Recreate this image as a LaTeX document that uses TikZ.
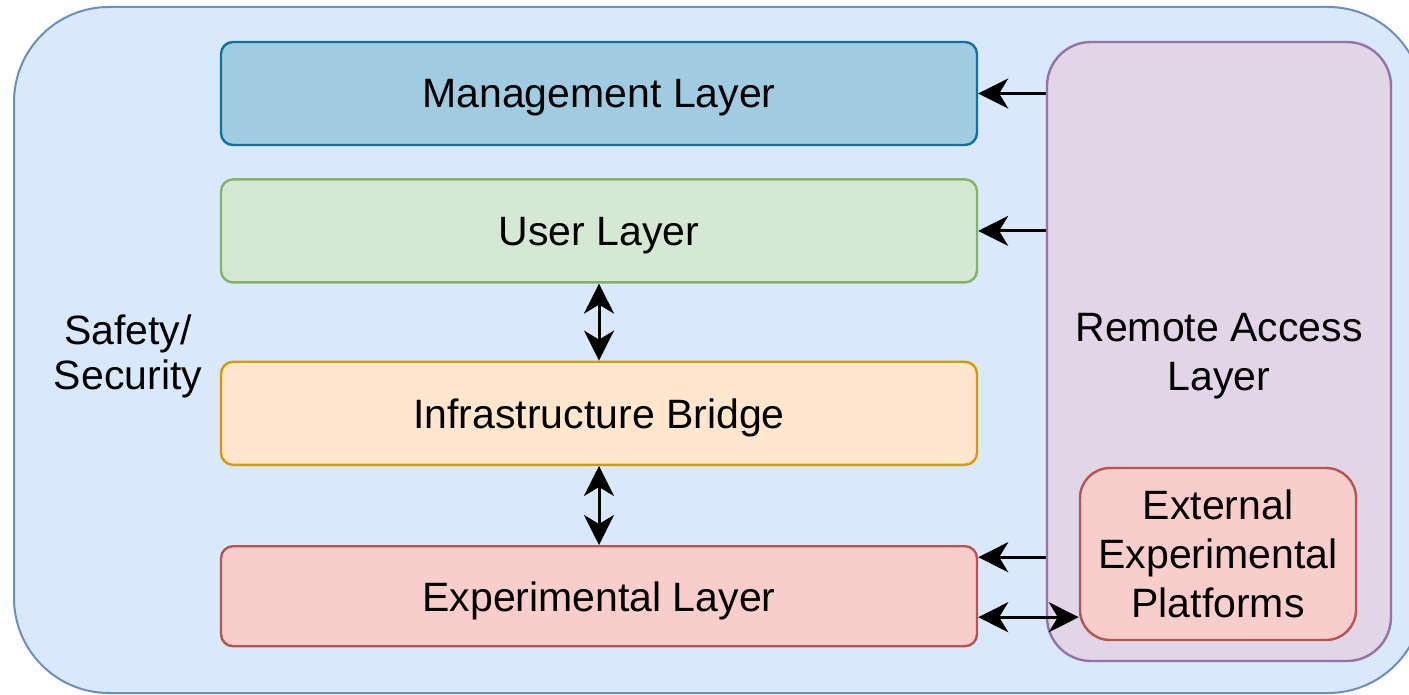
\documentclass[tikz,border=0pt]{standalone}
\usepackage{fontspec}
\setmainfont{Liberation Sans}
\usetikzlibrary{positioning, arrows.meta}

\definecolor{outerfill}{HTML}{DAE8FC}
\definecolor{outerline}{HTML}{6C8EBF}
\definecolor{mgmtfill}{HTML}{A0CBE1}
\definecolor{mgmtline}{HTML}{10739E}
\definecolor{userfill}{HTML}{D5E8D4}
\definecolor{userline}{HTML}{82B366}
\definecolor{bridgefill}{HTML}{FFE6CC}
\definecolor{bridgeline}{HTML}{D79B00}
\definecolor{expfill}{HTML}{F8CECC}
\definecolor{expline}{HTML}{B85450}
\definecolor{remotefill}{HTML}{E1D5E7}
\definecolor{remoteline}{HTML}{9673A6}

\tikzset{
  layer/.style={rectangle, draw, line width=1.2pt, rounded corners=6pt,
    minimum width=378pt, minimum height=51.5pt, text depth=0pt,
    font=\fontsize{20.5}{24}\selectfont},
  sidebox/.style={rectangle, draw, line width=1.2pt, align=center, text depth=0pt,
    font=\fontsize{20.5}{24.5}\selectfont},
  link/.style={-{Stealth[length=15pt, width=15pt, inset=4.5pt]}, line width=1.5pt},
  dlink/.style={{Stealth[length=15pt, width=15pt, inset=4.5pt]}-{Stealth[length=15pt, width=15pt, inset=4.5pt]}, line width=1.5pt}
}

\begin{document}
\begin{tikzpicture}[x=0.5pt, y=-0.5pt]

  \useasboundingbox (0,0) rectangle (1409,695);

  % outer safety frame
  \node [rectangle, draw=outerline, fill=outerfill, line width=1pt,
         rounded corners=47.5pt, minimum width=704.5pt, minimum height=343pt]
        (safety) at (718.5,350) {};
  \node [align=center, font=\fontsize{20.5}{22.5}\selectfont]
        (safetytxt) at (128,356) {Safety/\\Security};

  % layer stack
  \node [layer, fill=mgmtfill, draw=mgmtline] (mgmt) at (599,93.5)
        {Management Layer};
  \node [layer, fill=userfill, draw=userline] (user) [below = 16pt of mgmt]
        {User Layer};
  \node [layer, fill=bridgefill, draw=bridgeline] (bridge) [below = 38.5pt of user]
        {Infrastructure Bridge};
  \node [layer, fill=expfill, draw=expline, minimum height=50pt] (exper)
        [below = 39.5pt of bridge] {Experimental Layer};

  % remote access column
  \node [sidebox, fill=remotefill, draw=remoteline, rounded corners=22pt,
         minimum width=172pt, minimum height=309.5pt]
        (remote) at (1219,351.5) {Remote Access\\Layer};
  \node [sidebox, fill=expfill, draw=expline, rounded corners=15pt,
         minimum width=138pt, minimum height=86pt]
        (external) at (1218,554) {External\\Experimental\\Platforms};

  % edges
  \draw [dlink] (user) -- (bridge);
  \draw [dlink] (bridge) -- (exper);

  \draw [link] (remote.west |- mgmt.east) -- (mgmt.east);
  \draw [link] (remote.west |- user.east) -- (user.east);
  \draw [link] ([yshift=19.5pt]exper.east -| remote.west) -- ([yshift=19.5pt]exper.east);
  \draw [dlink] ([yshift=-10.5pt]exper.east) -- ([yshift=-10.5pt]exper.east -| external.west);
\end{tikzpicture}
\end{document}
